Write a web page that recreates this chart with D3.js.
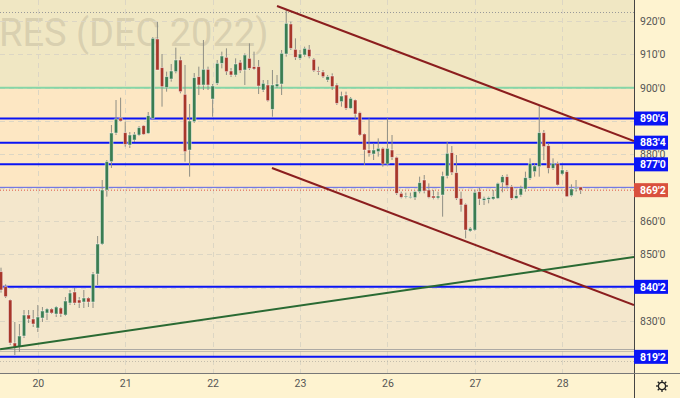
<!DOCTYPE html>
<html>
<head>
<meta charset="utf-8">
<script src="https://cdn.jsdelivr.net/npm/d3@7"></script>
<style>
  body { margin: 0; background: #fef3d0; }
  svg { display: block; font-family: Roboto, "Liberation Sans", sans-serif; }
</style>
</head>
<body>
<svg></svg>
<script>
let width = 680, height = 398;
let plotW = 634, plotH = 373;

// hourly bars, [open, high, low, close]
const bars = [
  [844.8, 846, 838.5, 839.3], [840.3, 841, 836.9, 837.3], [836.3, 836.5, 822.8, 823.4], [823.4, 829.7, 819.8, 822.2],
  [822.2, 829.1, 820.7, 825.5], [825.5, 833.3, 824.9, 831.8], [831.8, 833.3, 829.4, 830.6], [830.6, 833.3, 828.2, 829.1],
  [827.9, 834.8, 826.7, 831.2], [830.9, 834.2, 829.7, 833], [832.4, 833.9, 830.3, 833.6], [833.6, 833.9, 832.1, 832.4],
  [832.1, 834.5, 831.2, 834.2], [833.9, 834.2, 831.2, 832.1], [831.8, 837.2, 831.5, 836], [835.4, 839.3, 834.8, 838.4],
  [838.7, 839.9, 834.8, 835.4], [836.3, 837.2, 833.9, 835.4], [835.7, 839.3, 833.9, 836.9], [836.9, 837.2, 834.2, 835.7],
  [835.7, 844.7, 833.9, 844.1], [844.1, 855.5, 840.8, 853.1], [853.1, 872.3, 852.8, 869.3], [869.3, 878.3, 867.3, 877.8],
  [877.8, 888.8, 875.9, 886.4], [886.4, 896.3, 885.8, 890.6], [890.9, 897, 889.8, 890], [886.5, 889.8, 882.3, 883],
  [882.8, 886.7, 881.9, 885.8], [884.3, 886.7, 883.7, 886], [885.8, 888.5, 885.5, 888], [888.6, 888.8, 885.8, 886],
  [886.3, 892.7, 886.1, 891.6], [890.8, 915.2, 890.6, 914.8], [914.6, 919.7, 905.3, 905.3], [906, 910.1, 894.3, 900.3],
  [900, 904.8, 898.8, 903.3], [902.6, 907.1, 901.8, 905], [904.8, 912, 904.3, 908.3], [908.3, 909.3, 898.3, 898.8],
  [898, 906.8, 877.8, 880.8], [881.3, 895.1, 873.3, 890], [889.8, 904.4, 889.4, 903], [903.3, 906.3, 897.8, 900.8],
  [900.8, 914.3, 899.3, 905.5], [905.5, 906.3, 899.3, 900.8], [896.6, 901.1, 891.3, 900.5], [901.3, 908.3, 900.8, 907.3],
  [907.3, 910.8, 905.8, 909.5], [909.1, 911.8, 903.8, 904.8], [905, 905.9, 903.2, 903.8], [903.8, 908.8, 903.3, 907.1],
  [907.6, 908.3, 904.4, 905.1], [905.3, 910.3, 900.8, 909.8], [908.8, 913.3, 905.3, 905.8], [906.3, 910.8, 905.3, 905.6],
  [906.3, 908.3, 898.1, 900.5], [899.3, 902.3, 898.7, 901.3], [900.8, 902.3, 895.8, 896.1], [893.5, 905.3, 891.3, 900.8],
  [900.3, 903.8, 899.9, 901.1], [901.1, 911.3, 897.8, 910.3], [910.1, 923.3, 909.3, 919.3], [919.1, 919.8, 911.3, 911.8],
  [911.5, 914.8, 908.3, 909.1], [908.8, 911.3, 908.3, 910.1], [909.8, 912.3, 909.3, 911.8], [911.5, 912.8, 908.8, 909.3],
  [908.5, 908.9, 904.7, 905.1], [905, 906.3, 903.8, 904.7], [904.7, 905.3, 902.9, 903.3], [902.3, 903.8, 901.7, 903.3],
  [903.5, 904.3, 899.3, 900.3], [900.8, 901.3, 894.8, 895.3], [895.8, 898.8, 894.3, 897.5], [897.8, 898.8, 893.3, 893.8],
  [893.8, 897.2, 893.6, 896.8], [896.3, 896.5, 890.5, 892.1], [892.5, 892.8, 885.5, 885.8], [886.1, 886.3, 876.8, 881.3],
  [881.3, 890.8, 879.3, 880.3], [880.1, 883.3, 878.3, 881.3], [880.8, 884.8, 879.3, 881.8], [881.8, 882.1, 876.3, 877.1],
  [877.1, 890.8, 876.8, 881.8], [881.3, 885.8, 878.3, 879.1], [879.1, 879.3, 867.8, 868.3], [868.3, 868.8, 866.8, 867.1],
  [867.2, 868.5, 866.8, 867.5], [867.2, 868.5, 866.8, 867.3], [867, 869.1, 866.3, 868.8], [868.8, 873.3, 868.3, 871.5],
  [872.3, 873.8, 868.3, 869], [869.3, 871.3, 866.8, 867.1], [867.5, 869.3, 866.5, 866.9], [866.9, 868.8, 866.5, 867.5],
  [867.8, 874.8, 861.3, 873.5], [873.5, 883.8, 872.8, 880.3], [880.5, 882.5, 873.8, 874.5], [874.5, 879.8, 866.3, 866.8],
  [866.8, 868.8, 862.8, 864.8], [865, 865.3, 854.8, 857.3], [857, 858.2, 856.7, 857.8], [857.3, 869.3, 857, 868.6],
  [868.8, 870, 864.8, 866.6], [866.2, 867.3, 864.8, 866.8], [866.5, 867.3, 865.3, 867], [866.6, 869.3, 866.3, 867.3],
  [866.8, 871.5, 866.6, 871.3], [871.5, 873.8, 868.6, 873.3], [873.3, 874, 869.8, 870.6], [870.3, 870.8, 866.3, 866.8],
  [866.8, 869.3, 866.6, 867.6], [867.8, 870.6, 867.3, 869.8], [869.6, 874.8, 868.8, 873], [872.8, 878.8, 872.3, 877.3],
  [874.8, 877.3, 873.3, 876.5], [876.3, 894.8, 873.3, 886.5], [886.5, 887.3, 878.3, 882.3], [882.6, 883.3, 874.3, 875.8],
  [875.8, 878.8, 875.3, 877.3], [877.3, 877.8, 870.6, 870.8], [874.1, 876.8, 873.8, 875.3], [874.8, 875.3, 867.3, 867.3],
  [867.6, 871, 867.3, 869.6], [869.6, 872.3, 868.8, 869.9], [870.2, 870.2, 868.1, 869.25]
];

const dayLabels = ["20", "21", "22", "23", "26", "27", "28"];
const dayIndex = [8, 27, 46, 65, 84, 103, 122];
const gridTicks = [830, 840, 850, 860, 870, 880, 890, 900, 910, 920];
// 870 and 890 sit under the price tags, so only these are printed
const priceTicks = [830, 840, 850, 860, 880, 900, 910, 920];

const levels = [890.75, 883.5, 877, 840.25, 819.25];
const levelLabels = ["890'6", "883'4", "877'0", "840'2", "819'2"];
const lastPrice = 869.25, lastLabel = "869'2";
const periodHigh = 922.6;
const zoneTop = [900, 935];
const zoneMid = [870.1, 900];
const bottomEdges = [821.6, 821.0, 817.9];

// trend lines as [bar index, price]
const upperTrend = [[60, 924.5], [137.6, 884]];
const lowerTrend = [[58.9, 875.9], [137.6, 834.8]];
const supportTrend = [[-0.2, 821.5], [137.6, 849.2]];

let svg = d3.select("svg")
  .attr("width", width)
  .attr("height", height);

let x = d3.scaleLinear().domain([-0.22, 137.6]).range([0, plotW]);
let y = d3.scaleLinear().domain([920, 830]).range([21, 321]);

svg.append("defs").append("clipPath").attr("id", "plot")
  .append("rect").attr("width", plotW).attr("height", plotH);

// backgrounds
svg.append("rect").attr("width", width).attr("height", height).attr("fill", "#fef3d0");
let plot = svg.append("g").attr("clip-path", "url(#plot)");
plot.append("rect").attr("width", plotW).attr("height", plotH).attr("fill", "#f4e7cc");
plot.append("rect")
  .attr("y", y(zoneMid[1])).attr("width", plotW)
  .attr("height", y(zoneMid[0]) - y(zoneMid[1]))
  .attr("fill", "#fde7c3");
plot.append("rect")
  .attr("y", y(zoneTop[1])).attr("width", plotW)
  .attr("height", y(zoneTop[0]) - y(zoneTop[1]))
  .attr("fill", "#f0e7c3");

// watermark
plot.append("text")
  .attr("x", -1).attr("y", 46)
  .attr("font-size", 38)
  .attr("fill", "#d3caab").attr("fill-opacity", 0.8)
  .text("RES (DEC 2022)");

// grid
plot.append("g").selectAll("line").data(gridTicks).join("line")
  .attr("x1", 0).attr("x2", plotW)
  .attr("y1", d => Math.round(y(d)) + 0.5).attr("y2", d => Math.round(y(d)) + 0.5)
  .attr("stroke", "#dcd6c4").attr("stroke-dasharray", "5,4");
plot.append("g").selectAll("line").data(dayIndex).join("line")
  .attr("y1", 0).attr("y2", plotH)
  .attr("x1", d => Math.round(x(d)) + 0.5).attr("x2", d => Math.round(x(d)) + 0.5)
  .attr("stroke", "#dcd6c4").attr("stroke-dasharray", "5,4");

// zone edges and helper lines
plot.append("line")
  .attr("x1", 0).attr("x2", plotW).attr("y1", y(zoneTop[0])).attr("y2", y(zoneTop[0]))
  .attr("stroke", "#86d6a6").attr("stroke-width", 2);
plot.append("line")
  .attr("x1", 0).attr("x2", plotW).attr("y1", y(zoneMid[0])).attr("y2", y(zoneMid[0]))
  .attr("stroke", "#5b63e8").attr("stroke-width", 1);
plot.append("line")
  .attr("x1", 0).attr("x2", plotW).attr("y1", Math.round(y(periodHigh)) + 0.5).attr("y2", Math.round(y(periodHigh)) + 0.5)
  .attr("stroke", "#999").attr("stroke-dasharray", "1,2");
plot.append("g").selectAll("line").data(bottomEdges).join("line")
  .attr("x1", 0).attr("x2", plotW)
  .attr("y1", d => Math.round(y(d)) + 0.5).attr("y2", d => Math.round(y(d)) + 0.5)
  .attr("stroke", (d, i) => i == 0 ? "#999" : "#b8b2a4")
  .attr("stroke-width", 0.8)
  .attr("stroke-dasharray", (d, i) => i == 2 ? "1,2" : null);

// horizontal levels
plot.append("g").selectAll("line").data(levels).join("line")
  .attr("x1", 0).attr("x2", plotW)
  .attr("y1", d => y(d)).attr("y2", d => y(d))
  .attr("stroke", "#0a14f5").attr("stroke-width", 2);

// last price dotted line
plot.append("line")
  .attr("x1", 0).attr("x2", plotW).attr("y1", y(lastPrice)).attr("y2", y(lastPrice))
  .attr("stroke", "#e0533f").attr("stroke-dasharray", "1,2");

// candles
let candle = plot.append("g").selectAll("g").data(bars).join("g");
candle.append("line")
  .attr("x1", (d, i) => x(i)).attr("x2", (d, i) => x(i))
  .attr("y1", d => y(d[1])).attr("y2", d => y(d[2]))
  .attr("stroke", "#8e8e84").attr("stroke-width", 1);
candle.append("rect")
  .attr("x", (d, i) => x(i) - 1.7)
  .attr("width", 3.4)
  .attr("y", d => y(Math.max(d[0], d[3])))
  .attr("height", d => Math.max(1, Math.abs(y(d[0]) - y(d[3]))))
  .attr("fill", d => d[3] >= d[0] ? "#3a7d52" : "#a8372a")
  .attr("stroke", "rgba(255,255,255,0.55)").attr("stroke-width", 0.8);

// trend lines
let trend = d3.line().x(d => x(d[0])).y(d => y(d[1]));
plot.append("path").attr("d", trend(upperTrend))
  .attr("fill", "none").attr("stroke", "#8b1e1e").attr("stroke-width", 2);
plot.append("path").attr("d", trend(lowerTrend))
  .attr("fill", "none").attr("stroke", "#8b1e1e").attr("stroke-width", 2);
plot.append("path").attr("d", trend(supportTrend))
  .attr("fill", "none").attr("stroke", "#2a6a33").attr("stroke-width", 2);

// axes frame
svg.append("line").attr("x1", plotW + 0.5).attr("x2", plotW + 0.5).attr("y1", 0).attr("y2", height)
  .attr("stroke", "#444");
svg.append("line").attr("x1", 0).attr("x2", width).attr("y1", plotH + 0.5).attr("y2", plotH + 0.5)
  .attr("stroke", "#777");

// price axis
let yAxis = svg.append("g")
  .attr("transform", "translate(" + (plotW + 6) + ",0)")
  .call(d3.axisRight(y).tickValues(priceTicks).tickSize(0).tickPadding(0).tickFormat(d => d + "'0"));
yAxis.select(".domain").remove();
yAxis.selectAll("text").attr("fill", "#555").attr("font-size", 10.5).attr("font-family", "Roboto, sans-serif");

// date axis
let xAxis = svg.append("g")
  .attr("transform", "translate(0," + plotH + ")")
  .call(d3.axisBottom(x).tickValues(dayIndex).tickSize(0).tickPadding(7)
    .tickFormat((d, i) => dayLabels[i]));
xAxis.select(".domain").remove();
xAxis.selectAll("text").attr("fill", "#555").attr("font-size", 10.5).attr("font-family", "Roboto, sans-serif");

// level labels
let tags = svg.append("g").selectAll("g").data(levels).join("g")
  .attr("transform", d => "translate(" + (plotW) + "," + y(d) + ")");
tags.append("rect").attr("x", 0).attr("y", -7).attr("width", 34).attr("height", 14).attr("fill", "#0a14f5");
tags.append("text").attr("x", 6).attr("dy", "0.35em")
  .attr("fill", "white").attr("font-size", 10.5).attr("font-weight", "bold")
  .text((d, i) => levelLabels[i]);

let lastTag = svg.append("g").attr("transform", "translate(" + plotW + "," + y(lastPrice) + ")");
lastTag.append("rect").attr("x", 0).attr("y", -7).attr("width", 34).attr("height", 14).attr("fill", "#d9503d");
lastTag.append("text").attr("x", 6).attr("dy", "0.35em")
  .attr("fill", "white").attr("font-size", 10.5).attr("font-weight", "bold")
  .text(lastLabel);

// settings gear
let gear = svg.append("g").attr("transform", "translate(662,386)")
  .attr("stroke", "#222").attr("fill", "none");
gear.append("circle").attr("r", 3.6).attr("stroke-width", 1.3);
gear.selectAll("line").data(d3.range(8)).join("line")
  .attr("x1", d => 3.6 * Math.cos(d * Math.PI / 4)).attr("y1", d => 3.6 * Math.sin(d * Math.PI / 4))
  .attr("x2", d => 6 * Math.cos(d * Math.PI / 4)).attr("y2", d => 6 * Math.sin(d * Math.PI / 4))
  .attr("stroke-width", 1.3);
</script>
</body>
</html>
